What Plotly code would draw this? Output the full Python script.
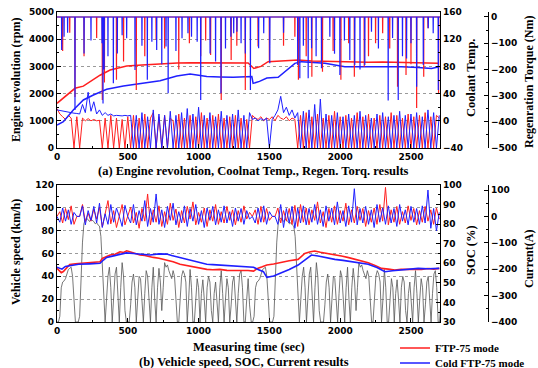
import plotly.graph_objects as go

RED = "#ff1f1f"
BLUE = "#1f1fff"

# ---------------- data: top panel ----------------
t_grid = list(range(0, 2720, 20))  # sampling instants (s) for rpm and current

rpm_ftp = [1450, 1250, 1150, 1050, 1200, 1100, 0, 1150, 0, 1100, 1000, 1080, 1000, 1050, 1000, 1020,
           0, 1100, 0, 1200, 0, 1100, 0, 1050, 0, 1150, 0, 1200, 0, 1100, 0, 1250, 0, 1100, 1300, 0,
           1150, 0, 1200, 0, 1100, 1000, 0, 1250, 0, 1100, 0, 1200, 0, 1150, 0, 1300, 0, 1100, 0, 1200,
           0, 1250, 0, 1100, 0, 1150, 0, 1200, 0, 1100, 0, 1050, 0, 1200, 1100, 1050, 1150, 1000, 1100,
           1050, 1150, 1000, 1200, 1100, 1050, 1150, 1000, 1100, 1050, 0, 1200, 0, 1300, 0, 1150, 0,
           1250, 0, 1100, 0, 1200, 0, 1350, 0, 1150, 0, 1200, 0, 1100, 0, 1300, 0, 1150, 0, 1250, 0,
           1100, 0, 1200, 0, 1150, 0, 1300, 0, 1200, 0, 1100, 0, 1250, 0, 1150, 0, 1200, 0, 1300, 0,
           1150, 0, 1200, 1100]
rpm_cold = [1400, 1380, 1350, 1330, 1300, 1290, 1280, 1270, 1250, 1600, 1300, 2050, 1350, 1700, 1250,
            1400, 1200, 1300, 1200, 1250, 1180, 1200, 1190, 1180, 1200, 1180, 1200, 0, 1200, 0, 1300, 0,
            1150, 0, 1400, 0, 1250, 0, 1200, 0, 1350, 0, 1200, 0, 1300, 0, 1450, 0, 1250, 0, 1500, 0,
            1200, 0, 1300, 0, 1150, 0, 1350, 0, 1200, 0, 1250, 0, 1400, 0, 1200, 0, 1300, 1050, 1100,
            1000, 1080, 1020, 1100, 0, 1050, 1200, 1400, 1900, 1300, 1500, 1200, 1400, 1100, 1300, 0,
            1350, 0, 1400, 0, 1600, 0, 1800, 0, 1250, 0, 1200, 0, 1300, 0, 1150, 0, 1250, 0, 1200, 0,
            1350, 0, 1200, 0, 1100, 0, 1250, 0, 1300, 0, 1150, 0, 1200, 0, 1350, 0, 1200, 0, 1250, 0,
            1300, 0, 1150, 0, 1400, 0, 1300, 0, 1200]

cool_ftp_t = [0, 68, 127, 186, 233, 304, 375, 440, 492, 600, 700, 775, 850, 950, 1050, 1150, 1250, 1350,
              1390, 1440, 1491, 1560, 1630, 1703, 1800, 1900, 1962, 2050, 2198, 2300, 2433, 2550, 2693]
cool_ftp = [25.7, 38, 47.8, 51, 57.5, 67, 74.7, 78, 80.6, 82, 83.5, 84.5, 85, 85.5, 85.5, 85, 85.5, 85,
            77, 80, 87, 88, 89, 89.4, 88, 87.5, 87, 86.5, 86, 86.5, 86, 85.5, 84.5]
cool_cold_t = [0, 45, 115, 186, 257, 351, 469, 610, 728, 846, 940, 1000, 1058, 1150, 1245, 1376, 1385,
               1430, 1482, 1562, 1609, 1680, 1727, 1800, 1892, 2033, 2198, 2300, 2433, 2550, 2645, 2700]
cool_cold = [-6.2, -1.3, 15.9, 30.6, 38, 46.3, 51.2, 56, 59, 65.9, 68.8, 67, 65, 64.5, 64, 65, 55,
             58, 63, 64, 72, 84.5, 87, 86, 84.5, 79.6, 80, 79.5, 79.6, 78.5, 77, 79.6]

regen_ftp_t = [40, 90, 127, 191, 280, 320, 335, 420, 470, 560, 620, 700, 760, 860, 935, 1015, 1050, 1085,
               1160, 1230, 1270, 1330, 1420, 1500, 1600, 1680, 1705, 1760, 1800, 1875, 1950, 2005, 2060,
               2100, 2170, 2200, 2250, 2300, 2350, 2405, 2465, 2500, 2540, 2590, 2620, 2695]
regen_ftp = [-130, -60, -305, -150, -80, -317, -250, -240, -170, -279, -150, -88, -120, -200, -100, -150,
             -90, -145, -317, -164, -110, -279, -113, -170, -110, -75, -240, -150, -228, -209, -130, -240,
             -100, -228, -190, -150, -100, -62, -120, -266, -221, -180, -347, -228, -43, -291]
regen_cold_t = [33, 50, 75, 127, 191, 240, 318, 325, 333, 360, 398, 426, 460, 492, 551, 600, 638, 670, 704,
                740, 770, 785, 840, 883, 925, 950, 990, 1015, 1081, 1120, 1158, 1190, 1228, 1248, 1271,
                1300, 1330, 1366, 1424, 1460, 1503, 1600, 1700, 1715, 1740, 1774, 1798, 1830, 1868, 1927,
                1960, 1998, 2030, 2068, 2103, 2140, 2174, 2221, 2270, 2339, 2370, 2410, 2440, 2469, 2500,
                2540, 2587, 2622, 2657, 2693]
regen_cold = [-126, -75, -60, -355, -139, -90, -100, -330, -200, -150, -253, -139, -70, -81, -202, -110,
              -240, -95, -126, -180, -113, -291, -130, -81, -62, -75, -95, -317, -139, -170, -291, -120,
              -75, -62, -56, -100, -139, -279, -119, -62, -177, -60, -183, -234, -110, -234, -119, -150,
              -196, -75, -140, -221, -90, -164, -183, -200, -183, -56, -120, -319, -80, -317, -150, -158,
              -100, -266, -183, -43, -62, -279]

# ---------------- data: bottom panel ----------------
phase1_t = list(range(0, 510, 10))
phase1_speed = [0, 0, 5, 30, 35, 36, 38, 42, 46, 47, 48, 40, 20, 0, 0, 0, 5, 40, 70, 86,
                90, 91, 89, 88, 90, 89, 88, 86, 87, 85, 84, 75, 50, 20, 0, 20, 40, 48, 30, 0,
                20, 42, 48, 25, 0, 30, 52, 40, 10, 0, 0]
phase2_t = list(range(510, 1380, 10))
phase2_speed = [0, 15, 35, 42, 30, 0, 20, 40, 38, 15,
                0, 25, 45, 40, 20, 0, 30, 48, 20, 0,
                30, 47, 35, 10, 30, 52, 48, 50, 45, 42,
                38, 45, 40, 20, 0, 0, 25, 40, 45, 42,
                35, 0, 20, 46, 30, 0, 0, 20, 38, 30,
                0, 25, 37, 20, 0, 30, 40, 35, 10, 0,
                25, 35, 20, 0, 30, 45, 25, 0, 20, 38,
                30, 0, 15, 35, 40, 20, 0, 25, 42, 45,
                30, 0, 0, 20, 38, 15, 0]
repeat_offset = 1372  # phases 1-2 are driven again

soc_ftp_t = [0, 15, 30, 45, 60, 90, 130, 186, 250, 304, 320, 340, 375, 410, 445, 470, 492, 520, 550, 586,
             620, 650, 680, 720, 775, 820, 869, 910, 964, 1010, 1058, 1100, 1150, 1200, 1247, 1300, 1350,
             1388, 1420, 1450, 1482, 1530, 1585, 1640, 1703, 1730, 1750, 1790, 1821, 1860, 1915, 1960,
             2009, 2060, 2103, 2150, 2198, 2250, 2292, 2340, 2386, 2430, 2480, 2530, 2575, 2620, 2660, 2700]
soc_ftp = [57.4, 56.5, 55.2, 55.8, 57.2, 59.4, 59.8, 60.0, 60.3, 60.8, 62.5, 63.2, 64.2, 64.6, 65.9, 65.5,
           66.4, 65.8, 65.0, 64.2, 64.0, 63.4, 63.0, 62.6, 61.7, 60.8, 59.5, 58.9, 58.0, 57.6, 56.9, 56.7,
           56.9, 56.4, 56.4, 56.1, 56.3, 56.0, 57.5, 58.2, 59.1, 59.6, 60.5, 61.3, 62.0, 63.8, 65.0, 65.9,
           66.3, 65.6, 65.0, 64.6, 63.7, 62.9, 62.0, 61.2, 60.3, 58.8, 57.4, 57.0, 56.6, 56.9, 56.9, 57.2,
           56.9, 57.3, 57.0, 57.4]
soc_cold_t = [0, 20, 35, 59, 100, 153, 230, 304, 330, 351, 400, 445, 490, 539, 600, 657, 720, 775, 810, 846,
              890, 940, 1000, 1058, 1100, 1152, 1200, 1247, 1320, 1388, 1420, 1458, 1482, 1530, 1585, 1640,
              1703, 1750, 1797, 1844, 1900, 1962, 2020, 2080, 2140, 2198, 2260, 2316, 2370, 2433, 2490,
              2551, 2620, 2700]
soc_cold = [58.0, 57.6, 57.0, 58.4, 58.8, 59.5, 59.7, 60.0, 61.8, 63.0, 63.8, 64.7, 65.3, 65.0, 64.6, 64.2,
            64.8, 64.7, 64.0, 63.3, 62.6, 61.7, 60.6, 59.5, 59.3, 59.1, 58.8, 58.4, 58.2, 58.0, 56.8, 55.7,
            52.8, 53.5, 55.2, 56.8, 59.1, 61.8, 64.2, 63.7, 62.8, 62.0, 61.5, 60.8, 60.2, 59.5, 57.8, 55.7,
            56.2, 56.6, 57.0, 57.4, 57.2, 57.4]

cur_ftp = [0, 18, -25, 30, -12, 40, -30, 0, 0, 45, -20, 12, -18, 28, -10, 35, -40, 8, 60, -28,
           22, -42, 5, 45, -32, 0, 35, -25, 15, -45, 30, -18, 85, -32, 25, -22, 40, -38, 18, -30,
           50, -15, 28, -42, 22, -25, 38, -10, 55, -32, 15, -22, 32, -38, 25, -18, 45, -30, 18, -25,
           38, -15, 25, -32, 22, -22, 40, -10, 15, 0, 25, -30, 38, -22, 30, -15, 0, 0, 32, -25,
           22, -18, 30, -30, 42, -38, 45, -22, 32, -32, 25, -15, 55, -25, 18, -42, 30, -22, 40, -30,
           22, -18, 50, -32, 25, -25, 38, -15, 30, -38, 22, -22, 32, -30, 45, -18, 110, -32, 25, -22,
           38, -30, 18, -25, 40, -15, 30, -32, 22, -22, 38, -18, 25, -30, 32, -10]
cur_cold = [0, -22, 32, -18, 25, -30, 15, 0, 0, 40, -32, 22, -15, 38, -25, 50, -42, 10, -30, 45,
            -22, 32, 0, -38, 42, 0, -25, 45, -32, 22, -18, 60, -38, 30, -22, 85, -30, 25, -42, 38,
            -15, 50, -32, 18, -25, 40, -38, 30, -18, 45, -30, 22, -42, 32, -15, 38, -32, 25, -22, 40,
            -25, 18, -38, 32, -18, 30, -30, 22, -10, 0, -25, 32, -22, 40, -30, 18, 0, 0, -30, 45,
            -42, 30, -25, 38, -45, 32, -25, 40, -32, 30, -22, 45, -30, 25, -38, 40, -18, 32, -32, 55,
            -25, 22, -38, 40, -22, 105, -32, 30, -25, 38, -30, 25, -42, 45, -22, 32, -30, 40, -25, 30,
            -38, 45, -18, 25, -32, 38, -22, 30, -30, 40, -25, 100, -45, 30, -55, 15]

legend_names = ["FTP-75 mode", "Cold FTP-75 mode"]

# ---------------- layout helpers ----------------
FW, FH = 538, 368


def px(x):
    return x / FW


def py(y):
    return 1 - y / FH


def spike_series(ts, vals, t_end):
    xs, ys = [0], [0]
    for t, v in sorted(zip(ts, vals)):
        xs += [t - 1, t, t + 1]
        ys += [0, v, 0]
    xs.append(t_end)
    ys.append(0)
    return xs, ys


speed_t = phase1_t + phase2_t + [t + repeat_offset for t in phase1_t] + [t + repeat_offset for t in phase2_t]
speed_v = phase1_speed + phase2_speed + phase1_speed + phase2_speed

fig = go.Figure()

# top panel
for rpm, col in [(rpm_ftp, RED), (rpm_cold, BLUE)]:
    fig.add_trace(go.Scatter(x=t_grid, y=rpm, mode="lines", line=dict(color=col, width=1),
                             xaxis="x", yaxis="y", showlegend=False))
for tt, cv, col in [(cool_ftp_t, cool_ftp, RED), (cool_cold_t, cool_cold, BLUE)]:
    fig.add_trace(go.Scatter(x=tt, y=cv, mode="lines", line=dict(color=col, width=1.5),
                             xaxis="x", yaxis="y2", showlegend=False))
for tt, rv, col in [(regen_ftp_t, regen_ftp, RED), (regen_cold_t, regen_cold, BLUE)]:
    xs, ys = spike_series(tt, rv, 2705)
    fig.add_trace(go.Scatter(x=xs, y=ys, mode="lines", line=dict(color=col, width=1.2),
                             xaxis="x", yaxis="y3", showlegend=False))

# bottom panel
fig.add_trace(go.Scatter(x=speed_t, y=speed_v, mode="lines", line=dict(color="#555555", width=0.8),
                         xaxis="x2", yaxis="y4", showlegend=False))
for tt, sv, col, nm, lg in [(soc_ftp_t, soc_ftp, RED, legend_names[0], "legend"),
                            (soc_cold_t, soc_cold, BLUE, legend_names[1], "legend2")]:
    fig.add_trace(go.Scatter(x=tt, y=sv, mode="lines", line=dict(color=col, width=1.6),
                             xaxis="x2", yaxis="y5", name=nm, showlegend=True, legend=lg))
for cv, col in [(cur_ftp, RED), (cur_cold, BLUE)]:
    fig.add_trace(go.Scatter(x=t_grid, y=cv, mode="lines", line=dict(color=col, width=1),
                             xaxis="x2", yaxis="y6", showlegend=False))

tickfont = dict(family="DejaVu Sans", size=9, color="black", weight="bold")
base = dict(showline=True, linecolor="black", linewidth=1.2, ticks="inside", ticklen=4, tickwidth=1,
            tickcolor="black", tickfont=tickfont, showgrid=False, zeroline=False, automargin=False,
            ticklabeloverflow="allow")
grid = dict(showgrid=True, gridcolor="#9a9a9a", griddash="dot", gridwidth=1)

XD = [px(57), px(440)]
TOP = [py(148), py(12)]
BOT = [py(322), py(185)]
P3 = px(488)

legfont = dict(family="Liberation Serif", size=11, color="black", weight="bold")
fig.update_layout(
    width=FW, height=FH, autosize=False,
    margin=dict(l=0, r=0, t=0, b=0, autoexpand=False),
    paper_bgcolor="white", plot_bgcolor="white",
    xaxis=dict(base, domain=XD, anchor="y", range=[0, 2705], dtick=500, mirror=True,
               minor=dict(ticks="inside", ticklen=2, dtick=250, tickcolor="black")),
    xaxis2=dict(base, domain=XD, anchor="y4", range=[0, 2705], dtick=500, mirror=True,
                minor=dict(ticks="inside", ticklen=2, dtick=250, tickcolor="black")),
    yaxis=dict(base, **grid, domain=TOP, anchor="x", range=[0, 5000], dtick=1000,
               minor=dict(ticks="inside", ticklen=2, dtick=500, tickcolor="black")),
    yaxis2=dict(base, overlaying="y", side="right", anchor="x", range=[-40, 160], dtick=40,
                minor=dict(ticks="inside", ticklen=2, dtick=20, tickcolor="black")),
    yaxis3=dict(base, overlaying="y", side="right", anchor="free", position=P3, range=[-500, 19],
                tick0=0, dtick=100, minor=dict(ticks="inside", ticklen=2, dtick=50, tickcolor="black")),
    yaxis4=dict(base, **grid, domain=BOT, anchor="x2", range=[0, 120], dtick=20,
                minor=dict(ticks="inside", ticklen=2, dtick=10, tickcolor="black")),
    yaxis5=dict(base, overlaying="y4", side="right", anchor="x2", range=[30, 100], dtick=10,
                minor=dict(ticks="inside", ticklen=2, dtick=5, tickcolor="black")),
    yaxis6=dict(base, overlaying="y4", side="right", anchor="free", position=P3, range=[-400, 119],
                tick0=0, dtick=100, minor=dict(ticks="inside", ticklen=2, dtick=50, tickcolor="black")),
    legend=dict(x=px(395), y=py(348), xanchor="left", yanchor="middle", font=legfont,
                bgcolor="rgba(0,0,0,0)", itemwidth=30),
    legend2=dict(x=px(395), y=py(363), xanchor="left", yanchor="middle", font=legfont,
                 bgcolor="rgba(0,0,0,0)", itemwidth=30),
)

serif = "Liberation Serif"
ann = [
    dict(text="Engine revolution (rpm)", x=16, y=80, textangle=-90, size=12),
    dict(text="Coolant Temp.", x=471, y=78, textangle=-90, size=12.5),
    dict(text="Regenration Torque (Nm)", x=529, y=82, textangle=-90, size=12),
    dict(text="Vehicle speed (km/h)", x=16, y=252, textangle=-90, size=12),
    dict(text="SOC (%)", x=471, y=250, textangle=-90, size=12.5),
    dict(text="Current(A)", x=529, y=259, textangle=-90, size=12),
    dict(text="(a) Engine revolution, Coolnat Temp., Regen. Torq. results", x=253, y=171, textangle=0, size=12.5),
    dict(text="Measuring time (sec)", x=249, y=347, textangle=0, size=12.5),
    dict(text="(b) Vehicle speed, SOC, Current results", x=244, y=362, textangle=0, size=12.5),
]
for a in ann:
    fig.add_annotation(text=a["text"], x=px(a["x"]), y=py(a["y"]), xref="paper", yref="paper", showarrow=False,
                       textangle=a["textangle"], xanchor="center", yanchor="middle",
                       font=dict(family=serif, size=a["size"], color="black", weight="bold"))

# remove the default page margin so the 538x368 figure fills the window exactly
fig.write_html("out.html", config={"displayModeBar": False},
               post_script="document.body.style.margin='0';document.body.style.overflow='hidden';")
